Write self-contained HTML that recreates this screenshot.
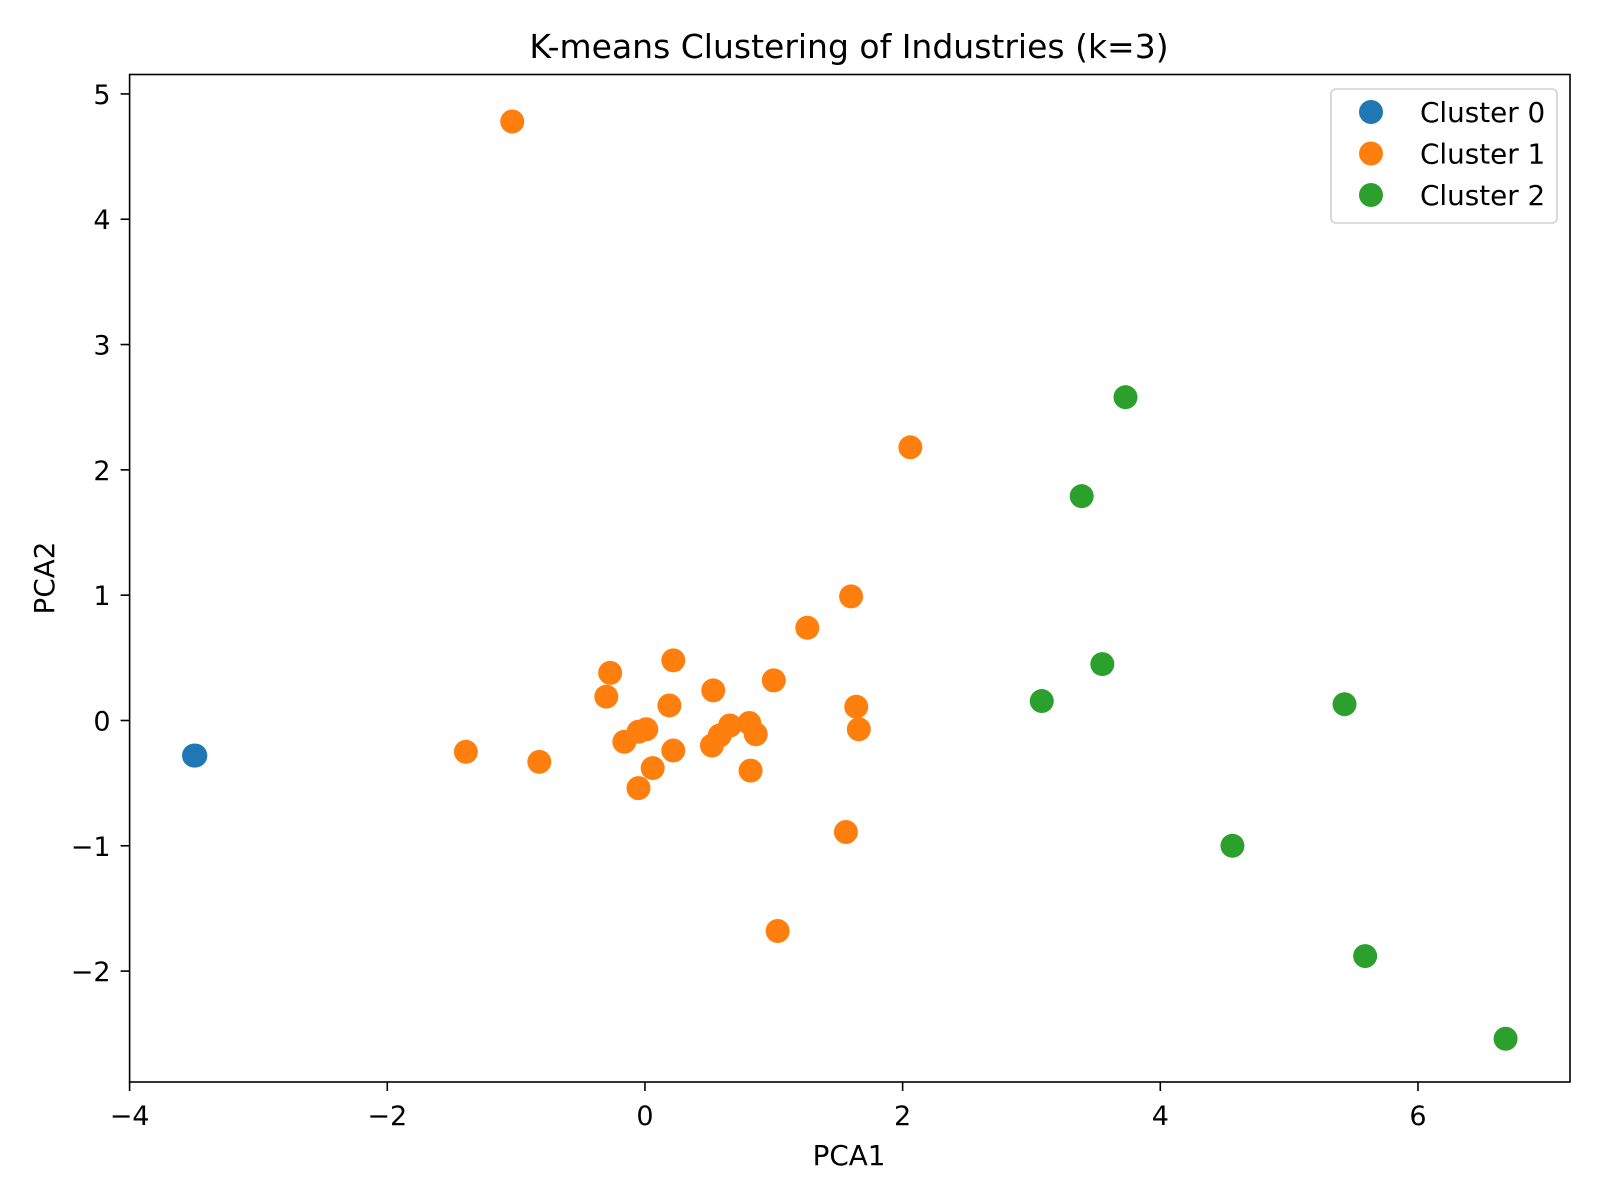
<!DOCTYPE html>
<html><head><meta charset="utf-8"><style>
html,body{margin:0;padding:0;background:#fff;}
svg{display:block;font-family:"DejaVu Sans","Liberation Sans",sans-serif;}
</style></head><body>
<svg id="chart" width="1600" height="1200" xmlns="http://www.w3.org/2000/svg"></svg>
<script>
const xTicks=[-4,-2,0,2,4,6];
const yTicks=[-2,-1,0,1,2,3,4,5];
const clusterNames=["Cluster 0","Cluster 1","Cluster 2"];
const clusterColors=["#1f77b4","#ff7f0e","#2ca02c"];
const c0x=[-3.49,-3.50];
const c0y=[-0.28,-0.28];
const c1x=[-1.03,2.06,1.60,1.26,0.22,-0.27,1.00,-0.30,0.53,0.19,1.64,1.66,0.66,0.81,0.86,0.58,0.52,0.01,-0.05,-0.16,0.22,0.06,-0.05,0.82,-1.39,-0.82,1.56,1.03];
const c1y=[4.78,2.18,0.99,0.74,0.48,0.38,0.32,0.19,0.24,0.12,0.11,-0.07,-0.04,-0.02,-0.11,-0.12,-0.20,-0.07,-0.09,-0.17,-0.24,-0.38,-0.54,-0.40,-0.25,-0.33,-0.89,-1.68];
const c2x=[3.73,3.39,3.55,3.08,5.43,4.56,5.59,6.68];
const c2y=[2.58,1.79,0.45,0.155,0.13,-1.00,-1.88,-2.54];

const L=129.6,R=1570,T=74.5,B=1082;
const xMin=-4,xMax=7.18,yMin=-2.885,yMax=5.155;
const sx=v=>L+(v-xMin)/(xMax-xMin)*(R-L);
const sy=v=>B-(v-yMin)/(yMax-yMin)*(B-T);
const svg=document.getElementById('chart');
const NS="http://www.w3.org/2000/svg";
function mk(tag,attrs,parent){const e=document.createElementNS(NS,tag);for(const k in attrs)e.setAttribute(k,attrs[k]);(parent||svg).appendChild(e);return e;}

const t=mk('text',{x:849,y:58,'text-anchor':'middle','font-size':33});
t.textContent="K-means Clustering of Industries (k=3)";



const frame=mk('rect',{x:L,y:T,width:R-L,height:B-T,fill:'none',stroke:'#000','stroke-width':1.6});



xTicks.forEach(v=>{
  const x=sx(v);
  const tk=mk('line',{x1:x,x2:x,y1:B,y2:B+9,stroke:'#000','stroke-width':1.6});
  
  
  const lb=mk('text',{x:x,y:1125,'text-anchor':'middle','font-size':27});
  lb.textContent=(v<0?'\u2212'+(-v):v);
  
  
});
yTicks.forEach(v=>{
  const y=sy(v);
  const tk=mk('line',{x1:L-9,x2:L,y1:y,y2:y,stroke:'#000','stroke-width':1.6});
  
  
  const lb=mk('text',{x:L-19,y:y+10,'text-anchor':'end','font-size':27});
  lb.textContent=(v<0?'\u2212'+(-v):v);
  
  
});
const xt=mk('text',{x:849,y:1165,'text-anchor':'middle','font-size':27.8});
xt.textContent="PCA1";


const yt=mk('text',{x:0,y:0,'text-anchor':'middle','font-size':27.8,transform:'translate(54,578) rotate(-90)'});
yt.textContent="PCA2";



const series=[[c0x,c0y],[c1x,c1y],[c2x,c2y]];
series.forEach((s,i)=>{
  const g=mk('g',{});
  
  
  s[0].forEach((xv,j)=>{
    const c=mk('circle',{cx:sx(xv),cy:sy(s[1][j]),r:12,fill:clusterColors[i]},g);
    
    
  });
});

const lg=mk('g',{});


mk('rect',{x:1331,y:89,width:226,height:134,rx:5,fill:'#fff','fill-opacity':0.8,stroke:'#d0d0d0','stroke-width':1.6},lg);
clusterNames.forEach((n,i)=>{
  const y=112+i*41.5;
  const e=mk('g',{},lg);
  
  
  mk('circle',{cx:1371,cy:y,r:12,fill:clusterColors[i]},e);
  const tx=mk('text',{x:1420,y:y+10,'font-size':27.8},e);
  tx.textContent=n;
});
</script>
</body></html>
